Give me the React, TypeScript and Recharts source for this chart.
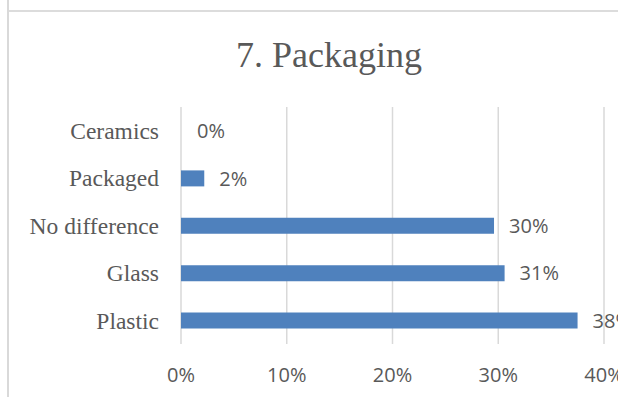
import React from "react";
import { BarChart, Bar, XAxis, YAxis, CartesianGrid, LabelList, Cell } from "recharts";

const categories = ["Ceramics", "Packaged", "No difference", "Glass", "Plastic"];
const shares = [0, 0.022, 0.296, 0.306, 0.375];
const xTicks = [0, 0.1, 0.2, 0.3, 0.4];
const title = "7. Packaging";

const data = categories.map((name, i) => ({ name, value: shares[i] }));

const pct = (v: any) => `${Math.round(Number(v) * 100)}%`;

const TEXT = "#595959";
const BAR = "#4F81BD";

export default function App() {
  return (
    <div
      style={{
        position: "fixed",
        left: 0,
        top: 0,
        width: 618,
        height: 397,
        overflow: "hidden",
        background: "#ffffff",
      }}
    >
      <div style={{ position: "absolute", left: 7, top: 0, width: 2, height: 397, background: "#d9d9d9" }} />
      <div style={{ position: "absolute", left: 9, top: 10, width: 609, height: 2, background: "#dcdcdc" }} />
      <div
        style={{
          position: "absolute",
          left: 129,
          top: 33,
          width: 400,
          textAlign: "center",
          fontFamily: "'Liberation Serif', serif",
          fontSize: 36,
          lineHeight: "44px",
          color: TEXT,
        }}
      >
        {title}
      </div>
      <div style={{ position: "absolute", left: 0, top: 0 }}>
        <BarChart
          width={700}
          height={397}
          data={data}
          layout="vertical"
          margin={{ top: 107, right: 96, bottom: 23, left: 0 }}
        >
          <CartesianGrid horizontal={false} stroke="#d9d9d9" strokeWidth={1.5} />
          <XAxis
            type="number"
            domain={[0, 0.4]}
            ticks={xTicks}
            tickFormatter={pct}
            axisLine={false}
            tickLine={false}
            height={30}
            tickMargin={18}
            tick={{ fill: TEXT, fontFamily: "'Open Sans', sans-serif", fontSize: 20 }}
            interval={0}
          />
          <YAxis
            type="category"
            dataKey="name"
            width={181}
            axisLine={false}
            tickLine={false}
            tickMargin={16}
            tick={{ fill: TEXT, fontFamily: "'Liberation Serif', serif", fontSize: 23.5 }}
            interval={0}
          />
          <Bar dataKey="value" fill={BAR} barSize={16} minPointSize={1} isAnimationActive={false}>
            {data.map((d) => (
              <Cell key={d.name} fill={d.value === 0 ? "transparent" : BAR} />
            ))}
            <LabelList
              dataKey="value"
              position="right"
              offset={15}
              formatter={pct}
              fill={TEXT}
              style={{ fontFamily: "'Open Sans', sans-serif", fontSize: 20 }}
            />
          </Bar>
        </BarChart>
      </div>
    </div>
  );
}
